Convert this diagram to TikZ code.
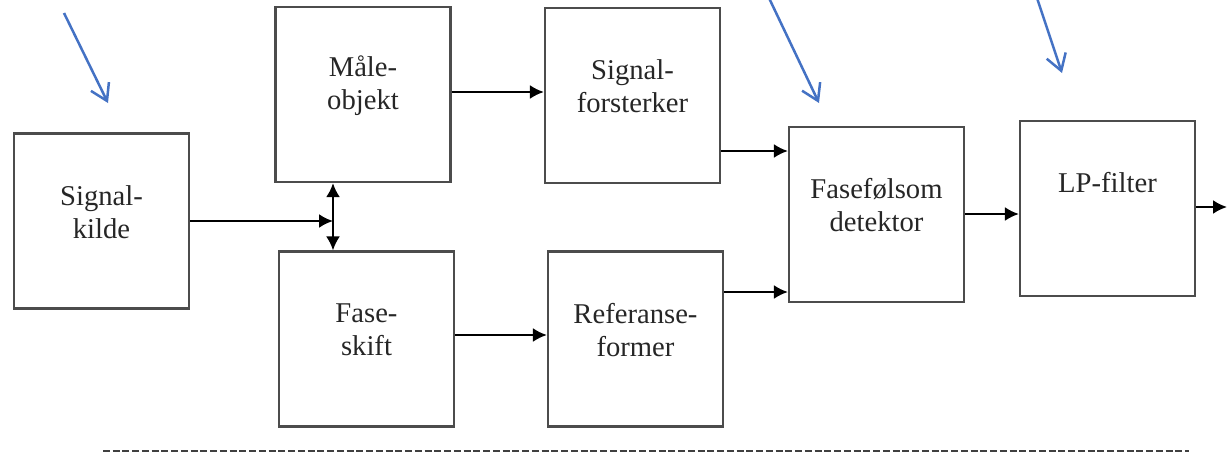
\documentclass[tikz,border=0pt]{standalone}
\usepackage{fontspec}
\setmainfont{Liberation Serif}
\usetikzlibrary{arrows.meta, positioning}
\definecolor{merkeblaa}{RGB}{68,114,196}
\tikzset{%
	blokk/.style={
		draw=black!70,
		line width=0.045cm,
		minimum width=3.5cm,
		minimum height=3.5cm
	},
	blokktekst/.style={
		align=center,
		inner sep=0pt,
		font=\fontsize{16.3}{18.8}\selectfont,
		text=black!85
	},
	pil/.style={
		-{Latex[length=0.28cm,width=0.28cm]},
		line width=0.045cm
	},
	dobbelpil/.style={
		{Latex[length=0.28cm,width=0.28cm]}-{Latex[length=0.28cm,width=0.28cm]},
		line width=0.045cm
	},
	merke/.style={
		-{Straight Barb[length=0.32cm,width=0.4cm]},
		draw=merkeblaa,
		line width=0.05cm
	},
}

\begin{document}
\begin{tikzpicture}[x=0.02cm, y=-0.02cm]
	\useasboundingbox (0,0) rectangle (1227,453);

	% blokkene
	\node[blokk] (kilde) at (101.5,221) {};
	\node[blokk] (maale) at (363,94.5) {};
	\node[blokk] (fase) at (366.5,339) {};
	\node[blokk] (forst) at (632.5,95.5) {};
	\node[blokk] (ref) at (635.5,339) {};
	\node[blokk] (det) at (876.5,214.5) {};
	\node[blokk] (lp) at (1107.5,208.5) {};

	\node[blokktekst] (kilde-t) at ([yshift=0.18cm]kilde.center) {Signal-\\kilde};
	\node[blokktekst] (maale-t) at ([yshift=0.18cm]maale.center) {Måle-\\objekt};
	\node[blokktekst] (fase-t) at ([yshift=0.18cm]fase.center) {Fase-\\skift};
	\node[blokktekst] (forst-t) at ([yshift=0.18cm]forst.center) {Signal-\\forsterker};
	\node[blokktekst] (ref-t) at ([yshift=0.18cm]ref.center) {Referanse-\\former};
	\node[blokktekst] (det-t) at ([yshift=0.18cm]det.center) {Fasefølsom\\detektor};
	\node[blokktekst] (lp-t) at ([yshift=0.52cm]lp.center) {LP-filter};

	% signalveiene
	\coordinate (kryss) at (333,221);
	\coordinate (ut) at (1227,207);
	\draw[pil] (kilde.east) -- (kryss);
	\draw[dobbelpil] (kryss |- maale.south) -- (kryss |- fase.north);
	\draw[pil] (maale.east |- 0,92) -- (forst.west |- 0,92);
	\draw[pil] (fase.east |- 0,335) -- (ref.west |- 0,335);
	\draw[pil] (forst.east |- 0,151) -- (det.west |- 0,151);
	\draw[pil] (ref.east |- 0,292) -- (det.west |- 0,292);
	\draw[pil] (det.east |- 0,214) -- (lp.west |- 0,214);
	\draw[pil] (lp.east |- ut) -- (ut);

	% blaa merkepiler
	\coordinate (m1a) at (64,13);
	\coordinate (m1b) at (108,103);
	\coordinate (m2a) at (769,-2);
	\coordinate (m2b) at (819,103);
	\coordinate (m3a) at (1037,-2);
	\coordinate (m3b) at (1062,73);
	\draw[merke] (m1a) -- (m1b);
	\draw[merke] (m2a) -- (m2b);
	\draw[merke] (m3a) -- (m3b);

	% stiplet linje
	\coordinate (s1) at (103,451);
	\coordinate (s2) at (1189,451);
	\draw[black!75, line width=0.03cm, dash pattern=on 0.14cm off 0.055cm] (s1) -- (s2);
\end{tikzpicture}
\end{document}
